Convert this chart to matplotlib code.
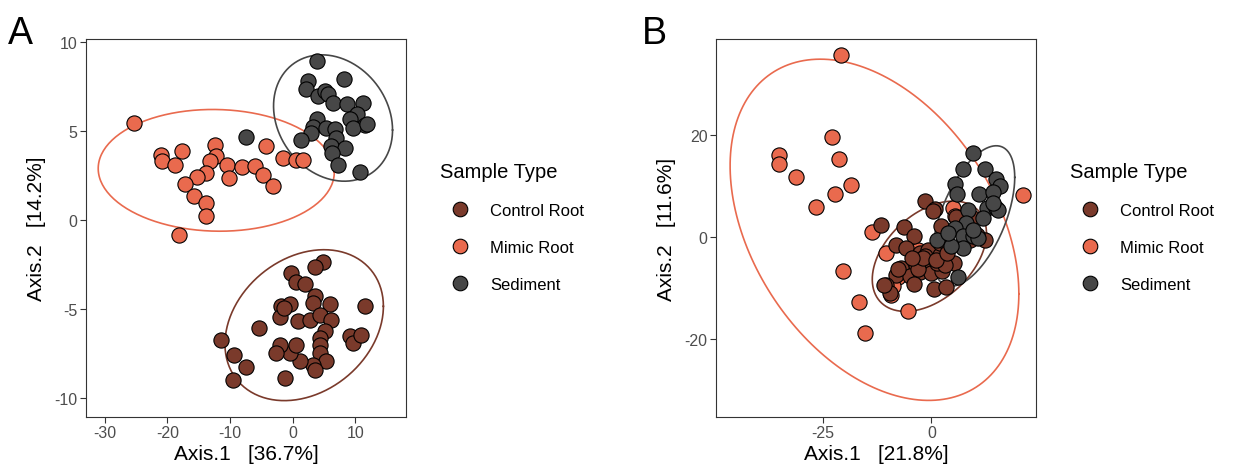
import numpy as np
import matplotlib
matplotlib.use('Agg')
import matplotlib.pyplot as plt

plt.rcParams['font.family'] = ['Liberation Sans', 'DejaVu Sans']
plt.rcParams['axes.unicode_minus'] = False

# sample colours
COLORS = {'Control Root': '#7A3A2B', 'Mimic Root': '#E96A4E', 'Sediment': '#474747'}
GROUPS = ['Control Root', 'Mimic Root', 'Sediment']

# ---- panel A ordination scores ----
a_ctrl_x = [4.8, 3.6, -0.3, 0.6, 2.0, 3.6, 3.3, 6.0, -1.8, -0.4, -2.1, 0.9, 2.7, 4.4, 6.2,
            5.2, 4.4, 4.3, 4.4, 5.4, 3.3, 3.6, 1.1, -0.4, -2.0, -2.6, 0.6, -1.2, -5.3,
            -11.5, -9.4, -7.5, -9.5, 9.1, 9.6, 10.9, 11.5, -1.4]
a_ctrl_y = [-2.37, -2.65, -2.97, -3.49, -3.59, -4.24, -4.66, -4.69, -4.85, -4.71, -5.46,
            -5.65, -5.63, -5.31, -5.63, -6.25, -6.63, -7.0, -7.47, -7.94, -8.13, -8.41,
            -7.94, -7.47, -7.0, -7.47, -7.0, -8.88, -6.07, -6.72, -7.57, -8.26, -8.98,
            -6.5, -6.91, -6.44, -4.81, -4.94]
a_mimic_x = [-25.3, -21.0, -20.8, -17.6, -18.8, -12.4, -12.2, -13.2, -13.8, -15.3, -17.2,
             -15.8, -13.8, -13.8, -10.5, -10.2, -8.1, -6.0, -4.2, -4.8, -3.1, -1.5, 0.6,
             1.6, -18.2]
a_mimic_y = [5.48, 3.64, 3.35, 3.89, 3.08, 4.21, 3.6, 3.32, 2.67, 2.44, 2.01, 1.35, 0.98,
             0.26, 3.08, 2.35, 3.0, 3.04, 4.17, 2.54, 1.92, 3.51, 3.38, 3.38, -0.85]
a_sed_x = [3.9, 2.4, 2.2, 4.1, 5.2, 5.7, 8.2, 6.5, 8.6, 11.3, 10.2, 9.2, 11.6, 9.7, 3.9,
           3.3, 5.4, 6.8, 7.0, 3.0, 1.4, 6.2, 8.4, 6.3, 7.3, 10.7, -7.5, 11.8]
a_sed_y = [8.96, 7.83, 7.36, 6.99, 7.27, 7.08, 7.92, 6.61, 6.52, 6.61, 5.95, 5.67, 5.33,
           5.2, 5.67, 5.26, 5.2, 5.1, 4.64, 4.92, 4.5, 4.17, 4.07, 3.79, 3.08, 2.72,
           4.68, 5.4]

# ---- panel B ordination scores ----
b_ctrl_x = [-1.5, 0.8, -11.7, -6.2, -4.1, -8.1, -5.8, -2.7, -0.8, 1.9, 2.2, 5.6, 9.5,
            12.3, -1.2, -3.5, -6.9, -8.1, -5.0, -2.7, 0.0, 2.5, 5.2, 0.6, 3.3, -3.9,
            -10.5, -9.6, 1.9, 3.9, 1.2, 3.1, -1.5, 10.4, 8.9, -3.1, -7.7, -10.8, 0.4,
            -2.0, 1.0, -4.5, 3.5]
b_ctrl_y = [7.07, 5.57, 2.36, 2.03, 0.2, -1.44, -2.1, -3.08, -2.42, -3.4, 2.16, 4.0, 3.8,
            -0.46, -5.04, -5.7, -6.0, -7.33, -7.66, -6.88, -7.0, -6.68, -5.04, -10.15,
            -9.76, -9.17, -9.3, -10.9, -1.1, -1.77, -5.04, -5.4, -3.7, 0.5, -0.46, -6.3,
            -6.3, -9.3, 5.1, -4.0, -4.5, -4.0, -3.0]
b_mimic_x = [-20.9, -22.8, -21.2, -35.2, -35.2, -31.2, -18.6, -22.2, -26.5, 21.0, -20.4,
             -16.7, -15.2, -13.7, -10.4, -5.4, -9.2, -7.7, 5.0, -8.8, 5.4, -3.0]
b_mimic_y = [35.6, 19.6, 15.3, 16.0, 14.3, 11.7, 10.3, 8.4, 6.0, 8.2, -6.7, -12.7, -18.8,
             1.05, -3.1, -14.5, -11.3, -7.7, 5.8, -9.6, 4.1, -2.5]
b_sed_x = [9.5, 7.2, 12.3, 14.8, 15.9, 5.4, 5.8, 11.0, 14.2, 12.7, 15.0, 15.4, 8.5, 11.8,
           7.9, 5.4, 1.3, 7.3, 9.6, 10.8, 7.2, 6.2, 14.1, 4.6, 3.9, 9.6]
b_sed_y = [16.4, 13.3, 13.4, 11.3, 10.0, 10.5, 8.4, 8.5, 8.8, 5.8, 5.8, 5.4, 5.4, 3.8,
           2.8, 1.8, -0.5, 0.2, 0.3, -0.1, -2.1, -7.7, 6.6, -1.8, 0.9, 1.5]

# 95% ellipses: centre x, centre y, half width, half height, correlation
a_ell = {'Control Root': (1.84, -5.9, 12.65, 4.24, 0.25),
         'Mimic Root': (-12.2, 2.8, 18.85, 3.42, -0.03),
         'Sediment': (6.45, 5.74, 9.5, 3.55, -0.19)}
b_ell = {'Control Root': (-0.46, -3.73, 13.15, 10.8, 0.42),
         'Mimic Root': (-13.1, 1.45, 33.25, 33.4, -0.375),
         'Sediment': (9.75, 4.15, 9.45, 13.75, 0.55)}

panels = [
    {'letter': 'A',
     'pts': {'Control Root': (a_ctrl_x, a_ctrl_y), 'Mimic Root': (a_mimic_x, a_mimic_y),
             'Sediment': (a_sed_x, a_sed_y)},
     'ell': a_ell, 'xlim': (-33.0, 18.1), 'ylim': (-11.06, 10.18),
     'xticks': [-30, -20, -10, 0, 10], 'yticks': [-10, -5, 0, 5, 10],
     'xlabel': 'Axis.1   [36.7%]', 'ylabel': 'Axis.2   [14.2%]'},
    {'letter': 'B',
     'pts': {'Control Root': (b_ctrl_x, b_ctrl_y), 'Mimic Root': (b_mimic_x, b_mimic_y),
             'Sediment': (b_sed_x, b_sed_y)},
     'ell': b_ell, 'xlim': (-49.6, 24.1), 'ylim': (-35.2, 38.8),
     'xticks': [-25, 0], 'yticks': [-20, 0, 20],
     'xlabel': 'Axis.1   [21.8%]', 'ylabel': 'Axis.2   [11.6%]'},
]


def ellipse_xy(cx, cy, wx, wy, r, n=200):
    t = np.linspace(0, 2 * np.pi, n)
    x = cx + wx * np.cos(t)
    y = cy + wy * (r * np.cos(t) + np.sqrt(1 - r ** 2) * np.sin(t))
    return x, y


W, H = 1237, 477
fig = plt.figure(figsize=(W / 100, H / 100), dpi=100)

ax_boxes = [(86, 40, 406, 418), (716, 40, 1036, 418)]
legend_pos = [(440, 163), (1070, 163)]
letter_pos = [(8, 44), (642, 44)]

for p, (l, t, r, b), (lx, ly), (px, py) in zip(panels, ax_boxes, legend_pos, letter_pos):
    ax = fig.add_axes([l / W, 1 - b / H, (r - l) / W, (b - t) / H])
    for g in GROUPS:
        ex, ey = ellipse_xy(*p['ell'][g])
        ax.plot(ex, ey, color=COLORS[g], lw=1.2, zorder=1)
    handles = []
    for g in ['Mimic Root', 'Control Root', 'Sediment']:
        xs, ys = p['pts'][g]
        ax.scatter(xs, ys, s=120, c=COLORS[g], edgecolors='black', linewidths=0.8, zorder=2)
    for g in GROUPS:
        handles.append(plt.Line2D([], [], ls='none', marker='o', markersize=10.5,
                                  markerfacecolor=COLORS[g], markeredgecolor='black',
                                  markeredgewidth=0.8, label=g))
    ax.set_xlim(*p['xlim'])
    ax.set_ylim(*p['ylim'])
    ax.set_xticks(p['xticks'])
    ax.set_yticks(p['yticks'])
    ax.tick_params(length=4, width=0.8, color='#333333', labelcolor='#4D4D4D',
                   labelsize=11.5, pad=2)
    for sp in ax.spines.values():
        sp.set_color('#333333')
        sp.set_linewidth(0.8)
    ax.set_xlabel(p['xlabel'], fontsize=15, labelpad=3)
    ax.set_ylabel(p['ylabel'], fontsize=15, labelpad=6)

    leg = ax.legend(handles=handles, title='Sample Type', loc='upper left',
                    bbox_to_anchor=(lx / W, 1 - ly / H), bbox_transform=fig.transFigure,
                    frameon=False, alignment='left', borderpad=0, fontsize=12,
                    title_fontsize=14.5, handletextpad=0.6, labelspacing=1.3,
                    handlelength=2.4, borderaxespad=0)
    leg._legend_box.sep = 16

    fig.text(px / W, 1 - py / H, p['letter'], fontsize=27, ha='left', va='baseline')

fig.savefig('out.png', dpi=100)
